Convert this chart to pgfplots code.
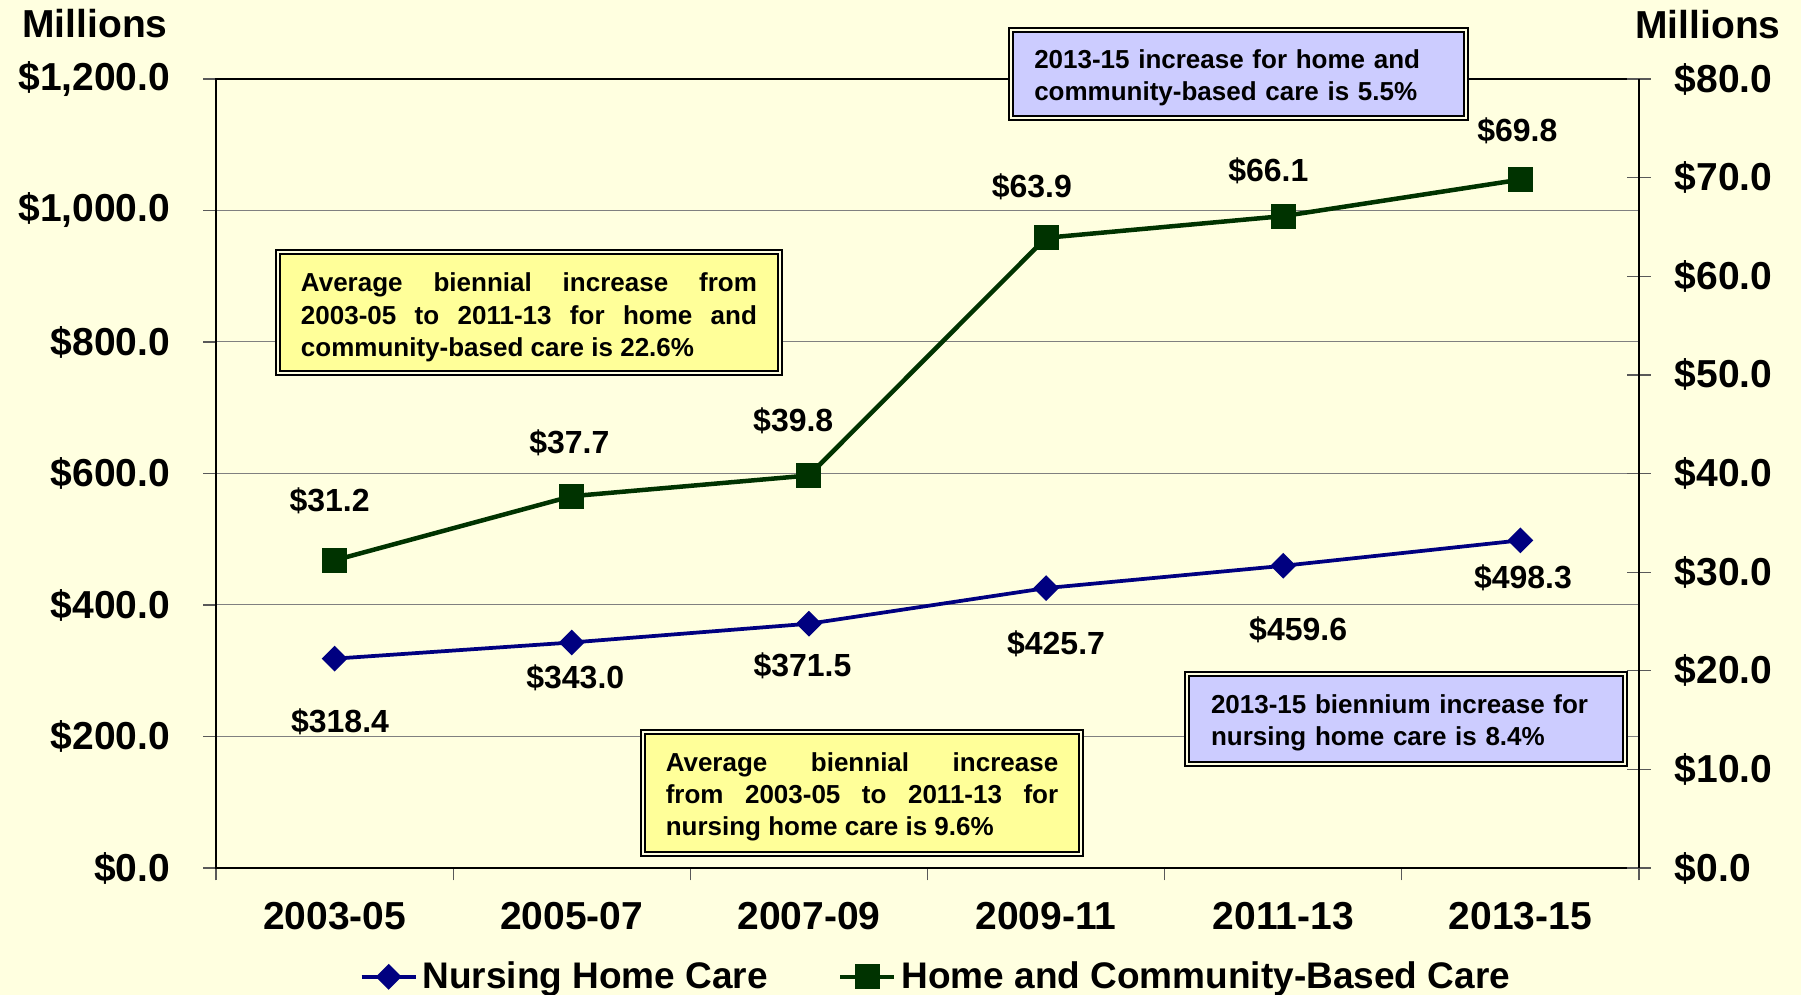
\documentclass[border=0pt]{standalone}
\usepackage{fontspec}
\setmainfont{Liberation Sans}
\usepackage{pgfplots}
\pgfplotsset{compat=1.18}
\definecolor{bg}{HTML}{FFFFE0}
\definecolor{navyc}{HTML}{000080}
\definecolor{greenc}{HTML}{003300}
\definecolor{boxy}{HTML}{FFFF99}
\definecolor{boxp}{HTML}{CCCCFF}
\newcommand\fA{\fontsize{15.6}{18}\selectfont\bfseries}
\newcommand\fB{\fontsize{12.8}{14}\selectfont\bfseries}
\newcommand\fC{\fontsize{14.8}{16}\selectfont\bfseries}
\newcommand\fD{\fontsize{10.4}{12.9}\selectfont\bfseries}
\tikzset{annbox/.style={draw=black, line width=0.8pt, double=bg, double distance=0.8pt, inner sep=0pt}}
\begin{document}
\begin{tikzpicture}
\path[use as bounding box, fill=bg] (-86.4pt,-50.8pt) rectangle (634pt,347.2pt);
\begin{axis}[
  at={(0pt,0pt)}, anchor=south west,
  width=569.2pt, height=315.6pt, scale only axis,
  xmin=-0.5, xmax=5.5, ymin=0, ymax=1200,
  xtick={-0.5,0.5,...,5.5}, xticklabels={},
  extra x ticks={0,1,2,3,4,5},
  extra x tick labels={2003-05,2005-07,2007-09,2009-11,2011-13,2013-15},
  extra x tick style={major tick length=0pt},
  ytick={0,200,...,1200},
  yticklabels={\$0.0,\$200.0,\$400.0,\$600.0,\$800.0,\$1{,}000.0,\$1{,}200.0},
  ytick pos=left, xtick pos=bottom,
  ymajorgrids, grid style={gray, line width=0.4pt},
  axis line style={line width=0.9pt},
  tick style={gray!70!black, line width=0.5pt},
  major tick length=5pt, tick align=outside,
  ticklabel style={font=\fA},
  yticklabel style={xshift=-9.8pt},
  xticklabel style={yshift=-10pt},
  clip=false,
]
\addplot[navyc, line width=1.5pt, mark=square*, mark size=2.9pt, mark options={rotate=45, solid}]
  coordinates {(0,318.4)(1,343.0)(2,371.5)(3,425.7)(4,459.6)(5,498.3)};
\node[font=\fB] at (axis cs:0.023,222) {\$318.4};
\node[font=\fB] at (axis cs:1.015,290) {\$343.0};
\node[font=\fB] at (axis cs:1.973,308) {\$371.5};
\node[font=\fB] at (axis cs:3.042,341) {\$425.7};
\node[font=\fB] at (axis cs:4.063,362) {\$459.6};
\node[font=\fB] at (axis cs:5.011,441) {\$498.3};
\node[font=\fB] at (axis cs:-0.021,558) {\$31.2};
\node[font=\fB] at (axis cs:0.990,647) {\$37.7};
\node[font=\fB] at (axis cs:1.934,680) {\$39.8};
\node[font=\fB] at (axis cs:2.940,1036) {\$63.9};
\node[font=\fB] at (axis cs:3.937,1060) {\$66.1};
\node[font=\fB] at (axis cs:4.987,1121) {\$69.8};
\end{axis}
\begin{axis}[
  at={(0pt,0pt)}, anchor=south west,
  width=569.2pt, height=315.6pt, scale only axis,
  xmin=-0.5, xmax=5.5, ymin=0, ymax=80,
  axis x line=none, axis y line*=right,
  ytick={0,10,...,80},
  yticklabels={\$0.0,\$10.0,\$20.0,\$30.0,\$40.0,\$50.0,\$60.0,\$70.0,\$80.0},
  axis line style={line width=0.9pt},
  tick style={gray!70!black, line width=0.5pt},
  major tick length=9.6pt, tick align=center,
  ticklabel style={font=\fA},
  yticklabel style={xshift=6pt},
  clip=false,
  legend image code/.code={\draw[mark repeat=2,mark phase=2,#1] plot coordinates {(0pt,0pt)(10.8pt,0pt)(21.6pt,0pt)};},
  legend style={at={(0.507,-0.138)}, anchor=center, draw=none, fill=none,
    legend columns=2, font=\fC,
    /tikz/every even column/.append style={column sep=26pt}},
]
\addlegendimage{navyc, line width=1.5pt, mark=square*, mark size=2.9pt, mark options={rotate=45, solid}}
\addlegendentry{Nursing Home Care}
\addplot[greenc, line width=1.8pt, mark=square*, mark size=4.1pt, mark options={solid}]
  coordinates {(0,31.2)(1,37.7)(2,39.8)(3,63.9)(4,66.1)(5,69.8)};
\addlegendentry{Home and Community-Based Care}
\end{axis}
\node[font=\fA] at (-48.4pt,337.6pt) {Millions};
\node[font=\fA] at (596.8pt,337.2pt) {Millions};
% yellow box 1
\node[annbox, fill=boxy, minimum width=200.8pt, minimum height=48.4pt] at (125.2pt,222pt) {};
\node[inner sep=0pt, text width=182.4pt, align=justify, font=\fD] at (125.2pt,220.2pt)
  {Average biennial increase from\linebreak 2003-05 to 2011-13 for home and\linebreak community-based care is 22.6\%};
% purple top box
\node[annbox, fill=boxp, minimum width=182pt, minimum height=35.2pt] at (408.8pt,317.6pt) {};
\node[inner sep=0pt, text width=163pt, align=left, font=\fD] at (408.8pt,316.2pt)
  {2013-15 increase for home and\\community-based care is 5.5\%};
% yellow box 2
\node[annbox, fill=boxy, minimum width=175pt, minimum height=49pt] at (258.4pt,30pt) {};
\node[inner sep=0pt, text width=157pt, align=justify, font=\fD] at (258.4pt,28.4pt)
  {Average biennial increase\linebreak from 2003-05 to 2011-13 for\linebreak nursing home care is 9.6\%};
% purple box 2
\node[annbox, fill=boxp, minimum width=175pt, minimum height=36pt] at (476pt,59.6pt) {};
\node[inner sep=0pt, text width=156pt, align=left, font=\fD] at (476pt,58.2pt)
  {2013-15 biennium increase for\\nursing home care is 8.4\%};
\end{tikzpicture}
\end{document}
